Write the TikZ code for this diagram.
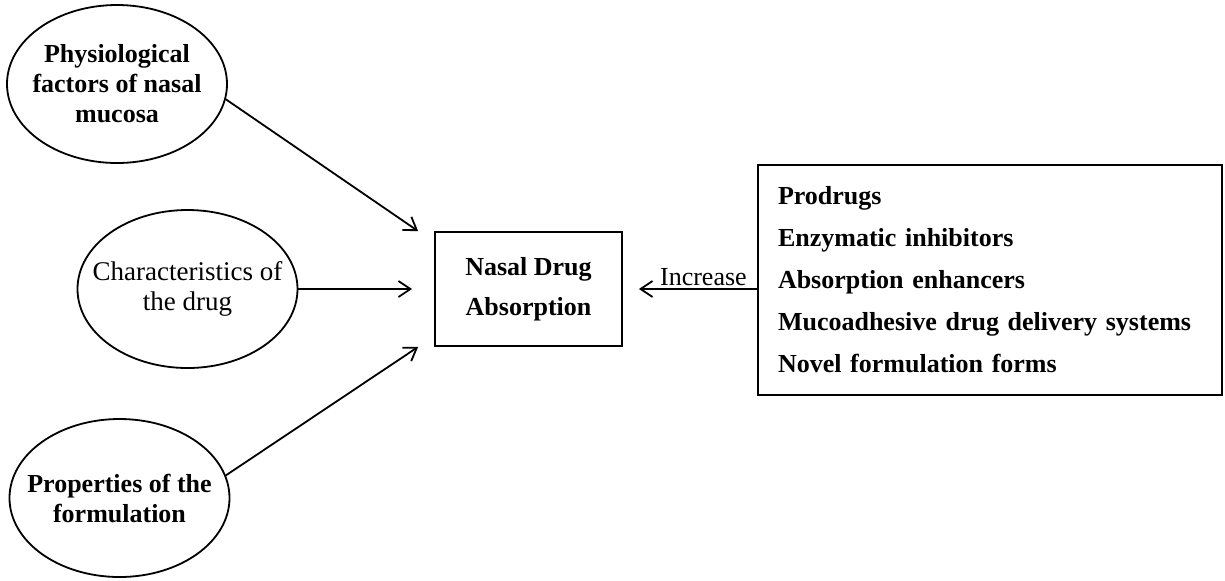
\documentclass[tikz,border=0pt]{standalone}
\usepackage{fontspec}
\setmainfont{Liberation Serif}
\usetikzlibrary{shapes,arrows.meta}
\tikzstyle{arrow} = [-{Straight Barb[length=6pt,width=8pt]}, line width=0.9pt]
\tikzstyle{block} = [rectangle, draw, line width=0.9pt, font=\fontsize{13}{15}\selectfont\bfseries]
\tikzstyle{factor} = [ellipse, draw, line width=0.9pt, minimum width=110pt, minimum height=79pt,
inner xsep=-10pt, inner ysep=0pt, align=center, font=\fontsize{13}{15}\selectfont\bfseries]

\begin{document}
\begin{tikzpicture}[x=0.5pt, y=-0.5pt]
				\useasboundingbox (0,0) rectangle (1225,580);
				% Place nodes
				\node (physio) [factor] at (117,84) {Physiological\\factors of nasal\\mucosa};
				\node (drug) [factor, font=\fontsize{13.5}{15}\selectfont] at (187.5,289) {Characteristics of\\the drug};
				\node (formul) [factor] at (119.5,498) {Properties of the\\formulation};
				\node (nasal) [block, minimum width=93.5pt, minimum height=57pt, align=center] at (528.5,289) {Nasal Drug\\[5pt]Absorption};
				\node (strategies) [block, minimum width=232pt, minimum height=115pt, text width=212pt, inner xsep=10pt, align=left] at (990,280)
				{Prodrugs\\[6pt]Enzymatic inhibitors\\[6pt]Absorption enhancers\\[6pt]Mucoadhesive drug delivery systems\\[6pt]Novel formulation forms};
				
				% Draw arrows
				\draw [arrow] (physio.-8) -- ([xshift=-8pt]nasal.north west);
				\draw [arrow] (drug.east) -- ([xshift=-11pt]drug.east -| nasal.west);
				\draw [arrow] (formul.12) -- ([xshift=-8pt]nasal.south west);
				\draw [arrow, shorten >=8pt] (strategies.west |- nasal.east) -- node[pos=0.4, above, inner sep=1pt, font=\fontsize{13}{15}\selectfont] {Increase} (nasal.east);

			\end{tikzpicture}
\end{document}
